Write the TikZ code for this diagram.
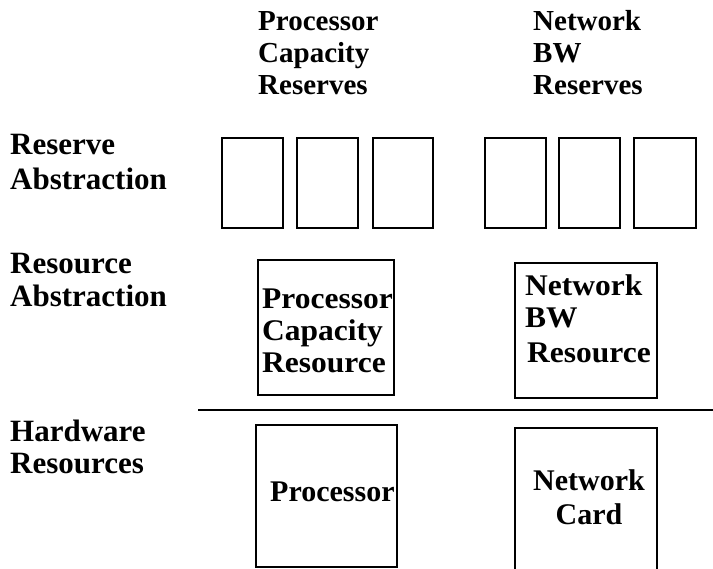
\documentclass[tikz,border=0pt]{standalone}
\usepackage{fontspec}
\setmainfont{Liberation Serif}
\newfontfamily\wideserif[FakeStretch=1.05]{Liberation Serif}
\begin{document}
\begin{tikzpicture}[x=1pt,y=-1pt,
  box/.style={line width=1.3pt},
  slot/.style={line width=1.5pt},
  lbl/.style={anchor=base west,inner sep=0pt,align=left,
    font=\bfseries\fontsize{31}{33}\selectfont},
  inbox/.style={anchor=base west,inner sep=0pt,align=left,
    font=\wideserif\bfseries\fontsize{30}{32}\selectfont},
  head/.style={anchor=base west,inner sep=0pt,align=left,
    font=\bfseries\fontsize{29}{32}\selectfont}]
\useasboundingbox (0,0) rectangle (713,569);
\clip (0,0) rectangle (713,569);

% column headings (anchored at the baseline of the last line)
\node[head] (hproc) at (258,95) {Processor\\Capacity\\Reserves};
\node[head] (hnet) at (533,95) {Network\\BW\\Reserves};

% row labels
\node[lbl,font=\bfseries\fontsize{31}{35}\selectfont] (lres) at (10,190) {Reserve\\Abstraction};
\node[lbl] (lrsc) at (10,307) {Resource\\Abstraction};
\node[lbl,font=\bfseries\fontsize{31}{32}\selectfont] (lhw) at (10,474) {Hardware\\Resources};

% reserve slots
\foreach \i/\xa/\xb in {1/222/283,2/297/358,3/373/433,4/485/546,5/559/620,6/634/696}
  \draw[slot] (\xa,138) rectangle (\xb,228) node[coordinate] (r\i) {};

% resource abstraction boxes
\draw[box] (258,260) rectangle (394,395);
\node[inbox] (pcr) at (262,373) {Processor\\Capacity\\Resource};
\draw[box] (515,263) rectangle (657,398);
\node[inbox] (nbr) at (525,363) {Network\\BW\\[3pt]\hspace*{2pt}Resource};

% separator between abstraction and hardware
\coordinate (sepL) at (198,410);
\coordinate (sepR) at (713,410);
\draw[line width=1.5pt] (sepL) -- (sepR);

% hardware boxes
\draw[box] (256,425) rectangle (397,567);
\node[lbl,font=\bfseries\fontsize{30}{32}\selectfont] (proc) at (270,502) {Processor};
\draw[box] (515,428) rectangle (657,600);
\node[lbl,align=center,anchor=base,font=\bfseries\fontsize{30}{35}\selectfont] (card) at (589,525) {Network\\Card};
\end{tikzpicture}
\end{document}
